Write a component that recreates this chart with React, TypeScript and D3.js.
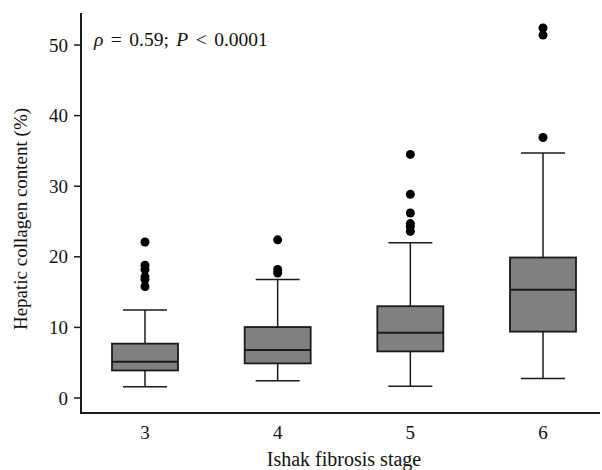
import React from "react";
import * as d3 from "d3";

// Ishak fibrosis stages
const stages = ["3", "4", "5", "6"];

// Box statistics per stage (hepatic collagen content, %)
const lowerWhisker = [1.6, 2.45, 1.65, 2.75];
const q1 = [3.9, 4.9, 6.6, 9.4];
const median = [5.15, 6.8, 9.25, 15.35];
const q3 = [7.7, 10.05, 13.0, 19.9];
const upperWhisker = [12.45, 16.8, 22.0, 34.7];

// Outlying observations per stage
const outliers3 = [22.1, 18.8, 18.2, 17.2, 16.8, 15.8];
const outliers4 = [22.4, 18.2, 17.7];
const outliers5 = [34.5, 28.85, 26.2, 24.7, 24.3, 23.6];
const outliers6 = [52.4, 51.4, 36.9];
const outliers = [outliers3, outliers4, outliers5, outliers6];

const yTicks = [0, 10, 20, 30, 40, 50];

const W = 602;
const H = 470;
const FONT = "'Liberation Serif', 'DejaVu Serif', serif";

export default function App() {
  const axisX = 81;
  const axisTop = 13;
  const axisBottom = 413;
  const axisRight = 600;

  const x = d3.scalePoint<string>().domain(stages).range([145, 543]);
  const y = d3.scaleLinear().domain([0, 50]).range([398, 45]);

  const boxW = 66;
  const capW = 44;
  const stroke = "#1a1a1a";

  return (
    <svg
      width={W}
      height={H}
      style={{ position: "absolute", left: 0, top: 0, background: "#fff" }}
      fontFamily={FONT}
    >
      {/* boxes */}
      {stages.map((s, i) => {
        const cx = x(s) as number;
        return (
          <g key={s}>
            <line x1={cx} x2={cx} y1={y(q3[i])} y2={y(upperWhisker[i])} stroke={stroke} strokeWidth={1.5} />
            <line x1={cx} x2={cx} y1={y(q1[i])} y2={y(lowerWhisker[i])} stroke={stroke} strokeWidth={1.5} />
            <line x1={cx - capW / 2} x2={cx + capW / 2} y1={y(upperWhisker[i])} y2={y(upperWhisker[i])} stroke={stroke} strokeWidth={1.5} />
            <line x1={cx - capW / 2} x2={cx + capW / 2} y1={y(lowerWhisker[i])} y2={y(lowerWhisker[i])} stroke={stroke} strokeWidth={1.5} />
            <rect
              x={cx - boxW / 2}
              y={y(q3[i])}
              width={boxW}
              height={y(q1[i]) - y(q3[i])}
              fill="#808080"
              stroke={stroke}
              strokeWidth={1.8}
            />
            <line x1={cx - boxW / 2} x2={cx + boxW / 2} y1={y(median[i])} y2={y(median[i])} stroke={stroke} strokeWidth={2} />
            {outliers[i].map((v, j) => (
              <circle key={j} cx={cx} cy={y(v)} r={4.5} fill="#000" />
            ))}
          </g>
        );
      })}

      {/* y axis */}
      <line x1={axisX} x2={axisX} y1={axisTop} y2={axisBottom + 1} stroke={stroke} strokeWidth={2} />
      {yTicks.map((t) => (
        <g key={t}>
          <line x1={axisX - 7} x2={axisX} y1={y(t)} y2={y(t)} stroke={stroke} strokeWidth={1.5} />
          <text x={68} y={y(t)} dy="0.35em" textAnchor="end" fontSize={19} fill="#111">
            {t}
          </text>
        </g>
      ))}

      {/* x axis */}
      <line x1={axisX} x2={axisRight} y1={axisBottom} y2={axisBottom} stroke={stroke} strokeWidth={2} />
      {stages.map((s) => (
        <text key={s} x={x(s)} y={439} textAnchor="middle" fontSize={19} fill="#111">
          {s}
        </text>
      ))}

      {/* axis titles */}
      <text x={344} y={466} textAnchor="middle" fontSize={20} fill="#111">
        Ishak fibrosis stage
      </text>
      <text
        transform="translate(27, 219) rotate(-90)"
        textAnchor="middle"
        fontSize={19}
        fill="#111"
      >
        Hepatic collagen content (%)
      </text>

      {/* correlation annotation */}
      <text x={94} y={46} fontSize={19.5} fill="#111" wordSpacing={2.6} style={{ whiteSpace: "pre" }}>
        <tspan fontStyle="italic">ρ</tspan>
        {" = 0.59; "}
        <tspan fontStyle="italic">P</tspan>
        {" < 0.0001"}
      </text>
    </svg>
  );
}
